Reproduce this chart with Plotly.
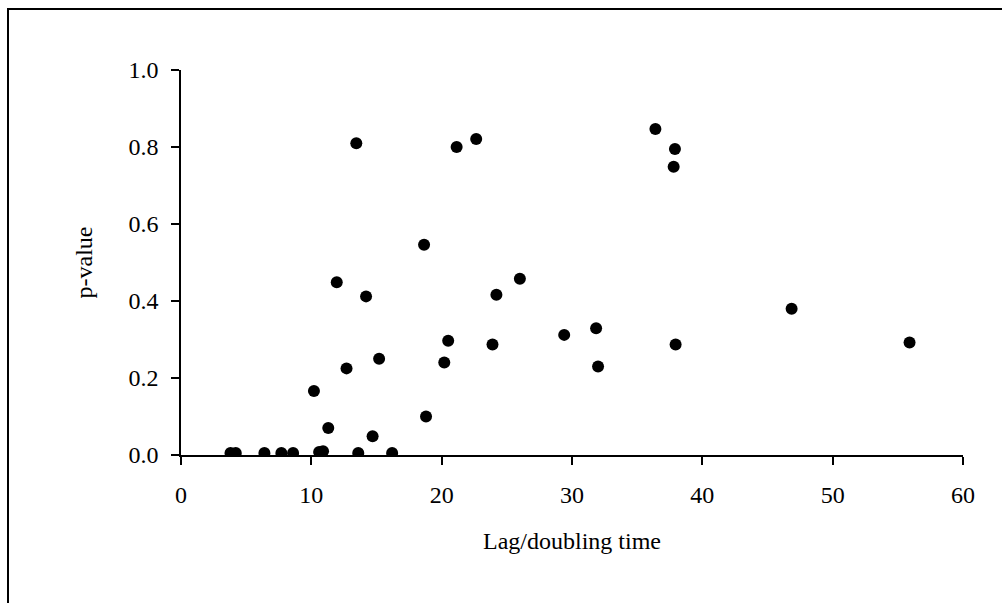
import plotly.graph_objects as go

lag_doubling = [3.8, 4.2, 6.4, 7.7, 8.6, 10.2, 10.6, 10.9, 11.3, 11.95, 12.7, 13.45,
                13.6, 14.2, 14.7, 15.2, 16.2, 18.65, 18.8, 20.2, 20.5, 21.15, 22.65,
                23.9, 24.2, 26.0, 29.4, 31.85, 32.0, 36.4, 37.8, 37.9, 37.95, 46.85, 55.9]
p_value = [0.005, 0.005, 0.005, 0.005, 0.005, 0.166, 0.008, 0.010, 0.070, 0.449, 0.225, 0.810,
           0.005, 0.412, 0.049, 0.250, 0.005, 0.546, 0.100, 0.240, 0.297, 0.800, 0.821,
           0.287, 0.416, 0.458, 0.312, 0.329, 0.230, 0.847, 0.749, 0.795, 0.287, 0.380, 0.292]

x_ticks = [0, 10, 20, 30, 40, 50, 60]
y_ticks = [0.0, 0.2, 0.4, 0.6, 0.8, 1.0]
y_tick_labels = ["0.0", "0.2", "0.4", "0.6", "0.8", "1.0"]

W, H = 1002, 603
L, R, T, B = 181, 39, 70, 148
pw, ph = W - L - R, H - T - B

font = dict(family="Liberation Serif, Times New Roman, serif", size=24, color="black")

fig = go.Figure(go.Scatter(
    x=lag_doubling, y=p_value, mode="markers",
    marker=dict(color="black", size=12, line=dict(width=0)),
    hoverinfo="x+y", showlegend=False,
))

fig.update_layout(
    width=W, height=H,
    margin=dict(l=L, r=R, t=T, b=B, pad=0),
    paper_bgcolor="white", plot_bgcolor="white",
    font=font,
    xaxis=dict(range=[0, 60], tickvals=x_ticks, ticks="outside", ticklen=8, tickwidth=1.5,
               tickcolor="black", showline=True, linecolor="black", linewidth=1.5,
               showgrid=False, zeroline=False, tickfont=font, ticklabelstandoff=9,
               title=dict(text="Lag/doubling time", font=font, standoff=26)),
    yaxis=dict(range=[0, 1.0], tickvals=y_ticks, ticktext=y_tick_labels, ticks="outside",
               ticklen=8, tickwidth=1.5, tickcolor="black", showline=True, linecolor="black",
               linewidth=1.5, showgrid=False, zeroline=False, tickfont=font, ticklabelstandoff=8,
               title=dict(text="p-value", font=font, standoff=29)),
    shapes=[dict(type="rect", xref="paper", yref="paper",
                 x0=(8 - L) / pw, x1=(W + 20 - L) / pw,
                 y0=-(B + 20) / ph, y1=(H - B - 9) / ph,
                 line=dict(color="black", width=2), fillcolor="rgba(0,0,0,0)", layer="below")],
)

fig.write_html("out.html")
